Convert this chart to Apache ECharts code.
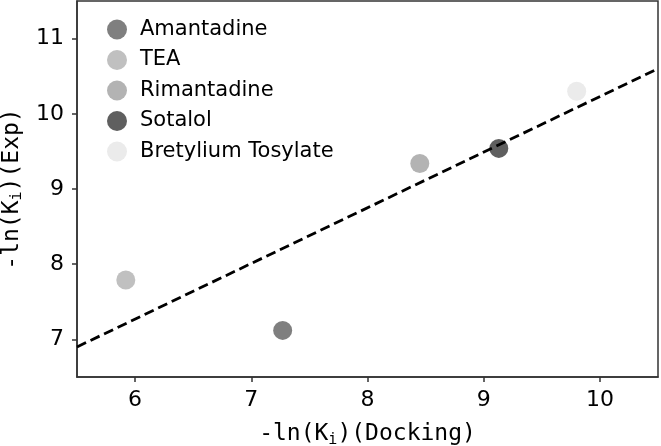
<!DOCTYPE html>
<html><head><meta charset="utf-8">
<script src="https://cdn.jsdelivr.net/npm/echarts@6/dist/echarts.min.js"></script>
<style>html,body{margin:0;padding:0;background:#fff}#c{width:661px;height:446px}</style>
</head><body><div id="c"></div>
<script>
const names = ['Amantadine', 'TEA', 'Rimantadine', 'Sotalol', 'Bretylium Tosylate'];
const dockingX = [7.27, 5.92, 8.45, 9.13, 9.80];
const expY = [7.12, 7.79, 9.34, 9.54, 10.30];
const colors = ['#7f7f7f', '#c0c0c0', '#b3b3b3', '#5f5f5f', '#ebebeb'];
const fitX = [5.5, 10.5];
const fitY = [6.90, 10.60];
const xTicks = [6, 7, 8, 9, 10];
const yTicks = [7, 8, 9, 10, 11];

const chart = echarts.init(document.getElementById('c'), null, {renderer: 'canvas'});
const mono = '"DejaVu Sans Mono", monospace';
const sans = '"DejaVu Sans", sans-serif';
const subStyle = {fontFamily: mono, fontSize: 15, color: '#000', padding: [12, 0, 0, 0]};

const series = names.map((n, i) => ({
  name: n, type: 'scatter', symbol: 'circle', symbolSize: 19,
  itemStyle: {color: colors[i], opacity: 1},
  data: [[dockingX[i], expY[i]]], z: 3
}));
series.push({
  name: 'fit', type: 'line', data: fitX.map((x, i) => [x, fitY[i]]),
  symbol: 'none', lineStyle: {color: '#000', width: 2.8, type: [10, 5]}, z: 4, silent: true
});

chart.setOption({
  animation: false,
  grid: {left: 77, right: 3, top: 1, bottom: 69, containLabel: false, outerBoundsMode: 'none',
    show: true, borderColor: '#333', borderWidth: 1.5, backgroundColor: 'transparent'},
  legend: {
    data: names, orient: 'vertical', left: 102, top: 14, icon: 'circle',
    itemWidth: 20, itemHeight: 20, itemGap: 9.5,
    textStyle: {fontFamily: sans, fontSize: 21, color: '#000', padding: [0, 0, 0, 8]}
  },
  xAxis: {
    type: 'value', min: 5.5, max: 10.5, interval: 0.5,
    axisLine: {show: true, lineStyle: {color: '#333', width: 1.5}},
    axisTick: {show: true, length: 5, lineStyle: {color: '#333', width: 1.5},
      customValues: xTicks},
    axisLabel: {fontFamily: sans, fontSize: 22, color: '#000', margin: 12, customValues: xTicks},
    splitLine: {show: false},
    name: '-ln(K{sub|i})(Docking)', nameLocation: 'middle', nameGap: 44,
    nameTextStyle: {fontFamily: mono, fontSize: 23, color: '#000', rich: {sub: subStyle}}
  },
  yAxis: {
    type: 'value', min: 6.5, max: 11.5, interval: 0.5,
    axisLine: {show: true, lineStyle: {color: '#333', width: 1.5}},
    axisTick: {show: true, length: 5, lineStyle: {color: '#333', width: 1.5},
      customValues: yTicks},
    axisLabel: {fontFamily: sans, fontSize: 22, color: '#000', margin: 13, customValues: yTicks},
    splitLine: {show: false},
    name: '-ln(K{sub|i})(Exp)', nameLocation: 'middle', nameGap: 49, nameRotate: 90,
    nameTextStyle: {fontFamily: mono, fontSize: 23, color: '#000', rich: {sub: subStyle}}
  },
  series: series
});
</script></body></html>
